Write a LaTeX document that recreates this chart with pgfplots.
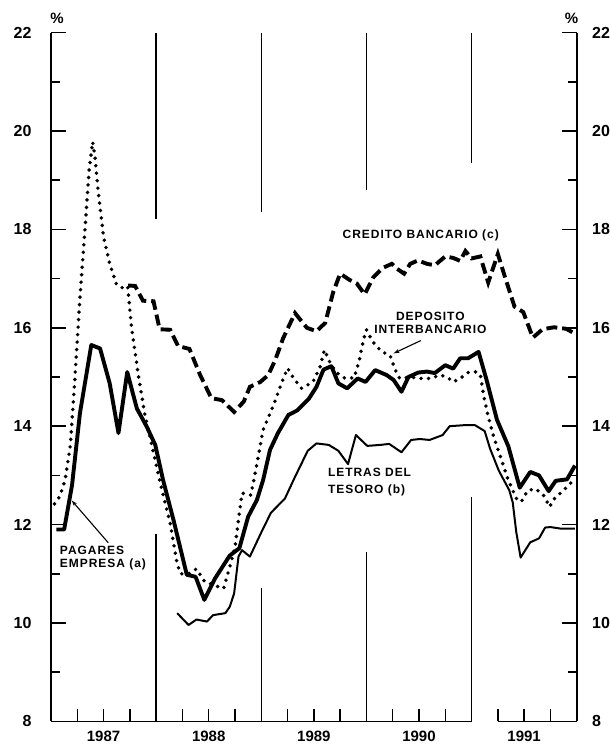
\documentclass[border=0pt]{standalone}
\usepackage{pgfplots}
\pgfplotsset{compat=1.18}
\usepackage{pgfplotstable}
\usepackage{fontspec}
\setmainfont{Liberation Sans}
\newfontfamily\lblfont[LetterSpace=8]{Liberation Sans}
\usetikzlibrary{arrows.meta}

\pgfplotstableread{
m v
0.6 11.9
1.5 11.9
2.4 12.8
3.3 14.26
4.6 15.65
5.6 15.58
6.7 14.87
7.7 13.86
8.7 15.1
9.8 14.36
10.9 14.0
11.9 13.62
12.8 12.9
14.0 12.08
15.5 10.98
16.5 10.94
17.5 10.47
18.7 10.9
20.4 11.37
21.5 11.52
22.5 12.16
23.5 12.5
24.2 12.9
25.0 13.52
25.9 13.86
27.1 14.23
28.1 14.32
29.4 14.55
30.3 14.8
31.1 15.15
32.0 15.22
32.8 14.87
33.8 14.77
35.0 14.97
35.9 14.9
37.0 15.14
38.3 15.04
39.1 14.94
40.0 14.7
40.8 15.0
41.9 15.09
42.9 15.11
43.8 15.08
45.0 15.24
45.9 15.17
46.7 15.38
47.6 15.38
48.8 15.51
49.7 14.95
50.9 14.13
52.2 13.59
53.5 12.75
54.7 13.07
55.7 13.0
56.8 12.68
57.6 12.89
58.9 12.92
59.8 13.2
}\pagares

\pgfplotstableread{
m v
14.4 10.2
15.7 9.96
16.6 10.07
17.8 10.03
18.5 10.16
19.9 10.2
20.4 10.33
20.9 10.6
21.4 11.35
21.8 11.48
22.7 11.35
24.05 11.86
25.1 12.24
26.7 12.53
27.85 12.97
29.3 13.5
30.3 13.65
31.7 13.62
32.8 13.5
33.9 13.23
34.8 13.82
36.1 13.6
37.6 13.62
38.6 13.64
40.0 13.47
41.1 13.72
42.1 13.74
43.2 13.72
44.7 13.82
45.5 14.0
47.1 14.02
48.4 14.02
49.5 13.9
50.1 13.55
51.1 13.1
52.3 12.7
52.7 12.45
53.1 11.85
53.6 11.33
54.7 11.64
55.7 11.72
56.4 11.94
57.0 11.95
58.1 11.92
59.8 11.92
}\letras

\pgfplotstableread{
m v
8.8 16.86
9.6 16.85
10.5 16.55
11.7 16.54
12.4 15.97
13.6 15.96
14.5 15.63
15.8 15.57
17.0 15.05
18.3 14.57
19.5 14.53
20.9 14.29
22.0 14.5
22.7 14.8
23.9 14.9
24.8 15.04
25.6 15.35
26.5 15.79
27.85 16.3
29.2 16.0
30.3 15.93
31.3 16.1
32.2 16.72
33.0 17.1
34.1 16.97
34.9 16.9
35.8 16.68
36.8 17.03
37.9 17.22
38.9 17.3
39.5 17.2
40.3 17.1
41.0 17.3
41.9 17.37
42.9 17.3
43.8 17.27
45.0 17.45
45.9 17.42
46.7 17.36
47.3 17.56
48.0 17.41
49.0 17.45
49.9 16.92
51.0 17.5
51.8 17.04
52.9 16.43
53.9 16.32
55.0 15.8
56.1 15.97
57.4 16.01
58.8 15.98
59.8 15.88
}\credito

\pgfplotstableread{
m v
0.4 12.42
1.0 12.57
1.6 12.9
2.2 13.6
2.7 14.9
3.3 16.6
3.9 18.06
4.35 19.2
4.75 19.78
5.0 19.5
5.4 18.75
6.0 17.85
6.7 17.3
7.5 16.87
8.3 16.8
8.75 16.84
9.2 16.0
10.0 15.0
10.7 14.25
11.4 13.7
12.4 12.9
13.6 12.03
14.4 11.2
14.8 11.0
15.7 11.0
16.6 11.1
17.5 10.85
18.9 10.75
19.7 10.7
20.4 11.14
21.0 11.54
21.4 12.1
21.8 12.64
22.8 12.6
23.3 13.04
24.2 13.92
25.4 14.43
26.3 14.87
27.0 15.18
27.7 14.97
28.6 14.77
29.9 14.9
30.7 15.2
31.2 15.55
31.8 15.31
32.5 15.1
33.5 14.98
34.6 14.98
35.2 15.35
35.65 15.75
36.0 15.96
36.7 15.72
37.7 15.52
38.7 15.44
39.3 15.14
39.8 14.97
41.0 15.0
42.1 14.97
43.3 14.97
44.4 15.04
45.2 15.0
45.9 14.9
46.7 14.97
47.6 15.09
48.4 15.11
49.0 15.05
49.4 14.6
49.9 14.2
50.5 13.8
51.25 13.4
52.2 12.9
53.2 12.5
53.7 12.47
54.4 12.69
55.3 12.73
56.3 12.58
56.9 12.36
57.5 12.54
58.4 12.68
59.2 12.82
59.8 12.95
}\deposito

\pgfplotsset{
  common/.style={
    at={(51pt,22.6pt)}, anchor=south west,
    scale only axis, width=525.7pt, height=688.8pt,
    xmin=0, xmax=60, ymin=8, ymax=22,
    clip=false,
    tick align=inside,
    ytick={8,10,...,22}, minor ytick={9,11,...,21},
    major tick length=15pt, minor tick length=9pt,
    every tick/.style={black, line width=1.5pt},
    y axis line style={line width=1.7pt},
    /pgf/number format/assume math mode=true,
    ticklabel style={font=\bfseries\fontsize{16}{18}\selectfont},
  }
}

\begin{document}
\begin{tikzpicture}[x=1pt,y=1pt]
\useasboundingbox (0,0) rectangle (610,744);
% right axis
\begin{axis}[common,
  axis y line*=right, axis x line=none,
  yticklabel style={anchor=west, xshift=12pt},
]
\addplot[draw=none] coordinates {(0,8)};
\end{axis}
% main axis
\begin{axis}[common,
  axis y line*=left, axis x line*=bottom,
  x axis line style={draw=none},
  yticklabel style={anchor=east, xshift=-16pt},
  xtick={3,6,9,15,18,21,27,30,33,39,42,45,51,54,57},
  xticklabels={},
  xtick style={/pgfplots/major tick length=12pt},
  extra x ticks={6,18,30,42,54},
  extra x tick labels={1987,1988,1989,1990,1991},
  extra x tick style={/pgfplots/major tick length=0pt, xticklabel style={yshift=-6pt, font=\bfseries\fontsize{15}{17}\selectfont}},
]
\draw[line width=1.7pt] (axis cs:0,8) -- (axis cs:48,8);
\draw[line width=1.7pt] (axis cs:51,8) -- (axis cs:60,8);
% year separators
\draw[line width=1.3pt] (axis cs:12,22) -- (axis cs:12,18.22);
\draw[line width=1.3pt] (axis cs:12,8) -- (axis cs:12,11.8);
\draw[line width=1.3pt] (axis cs:24,22) -- (axis cs:24,18.36);
\draw[line width=1.3pt] (axis cs:24,8) -- (axis cs:24,10.72);
\draw[line width=1.3pt] (axis cs:36,22) -- (axis cs:36,18.8);
\draw[line width=1.3pt] (axis cs:36,8) -- (axis cs:36,11.45);
\draw[line width=1.3pt] (axis cs:48,22) -- (axis cs:48,19.35);
\draw[line width=1.3pt] (axis cs:48,8) -- (axis cs:48,12.57);

\addplot[line width=2pt, line join=round] table[x=m,y=v]{\letras};
\addplot[line width=3.9pt, line join=round] table[x=m,y=v]{\pagares};
\addplot[line width=3.9pt, dash pattern=on 11pt off 5pt] table[x=m,y=v]{\credito};
\addplot[line width=3.9pt, line cap=round, dash pattern=on 0pt off 7.5pt] table[x=m,y=v]{\deposito};

% percent signs
\node[font=\bfseries\fontsize{15}{17}\selectfont] at (axis cs:0.7,22) [yshift=14pt] {\%};
\node[font=\bfseries\fontsize{15}{17}\selectfont] at (axis cs:59.4,22) [yshift=14pt] {\%};

% annotations
\node[font=\lblfont\bfseries\fontsize{12}{13}\selectfont] at (axis cs:42.2,17.87) {CREDITO BANCARIO (c)};
\node[font=\lblfont\bfseries\fontsize{12}{13.3}\selectfont, align=center] at (axis cs:43.3,16.1) {DEPOSITO\\INTERBANCARIO};
\draw[line width=1.1pt, -{Stealth[length=6pt,width=4pt]}] (axis cs:42.2,15.74) -- (axis cs:39.1,15.48);
\node[font=\lblfont\bfseries\fontsize{12}{16.5}\selectfont, align=left, anchor=west, inner sep=0pt] at (axis cs:31.6,12.86) {LETRAS DEL\\TESORO (b)};
\node[font=\lblfont\bfseries\fontsize{12}{12.8}\selectfont, align=left, anchor=west, inner sep=0pt] at (axis cs:1.0,11.32) {PAGARES\\EMPRESA (a)};
\draw[line width=1.1pt, -{Stealth[length=6pt,width=4pt]}] (axis cs:6.54,11.63) -- (axis cs:2.36,12.49);
\end{axis}
\end{tikzpicture}
\end{document}
